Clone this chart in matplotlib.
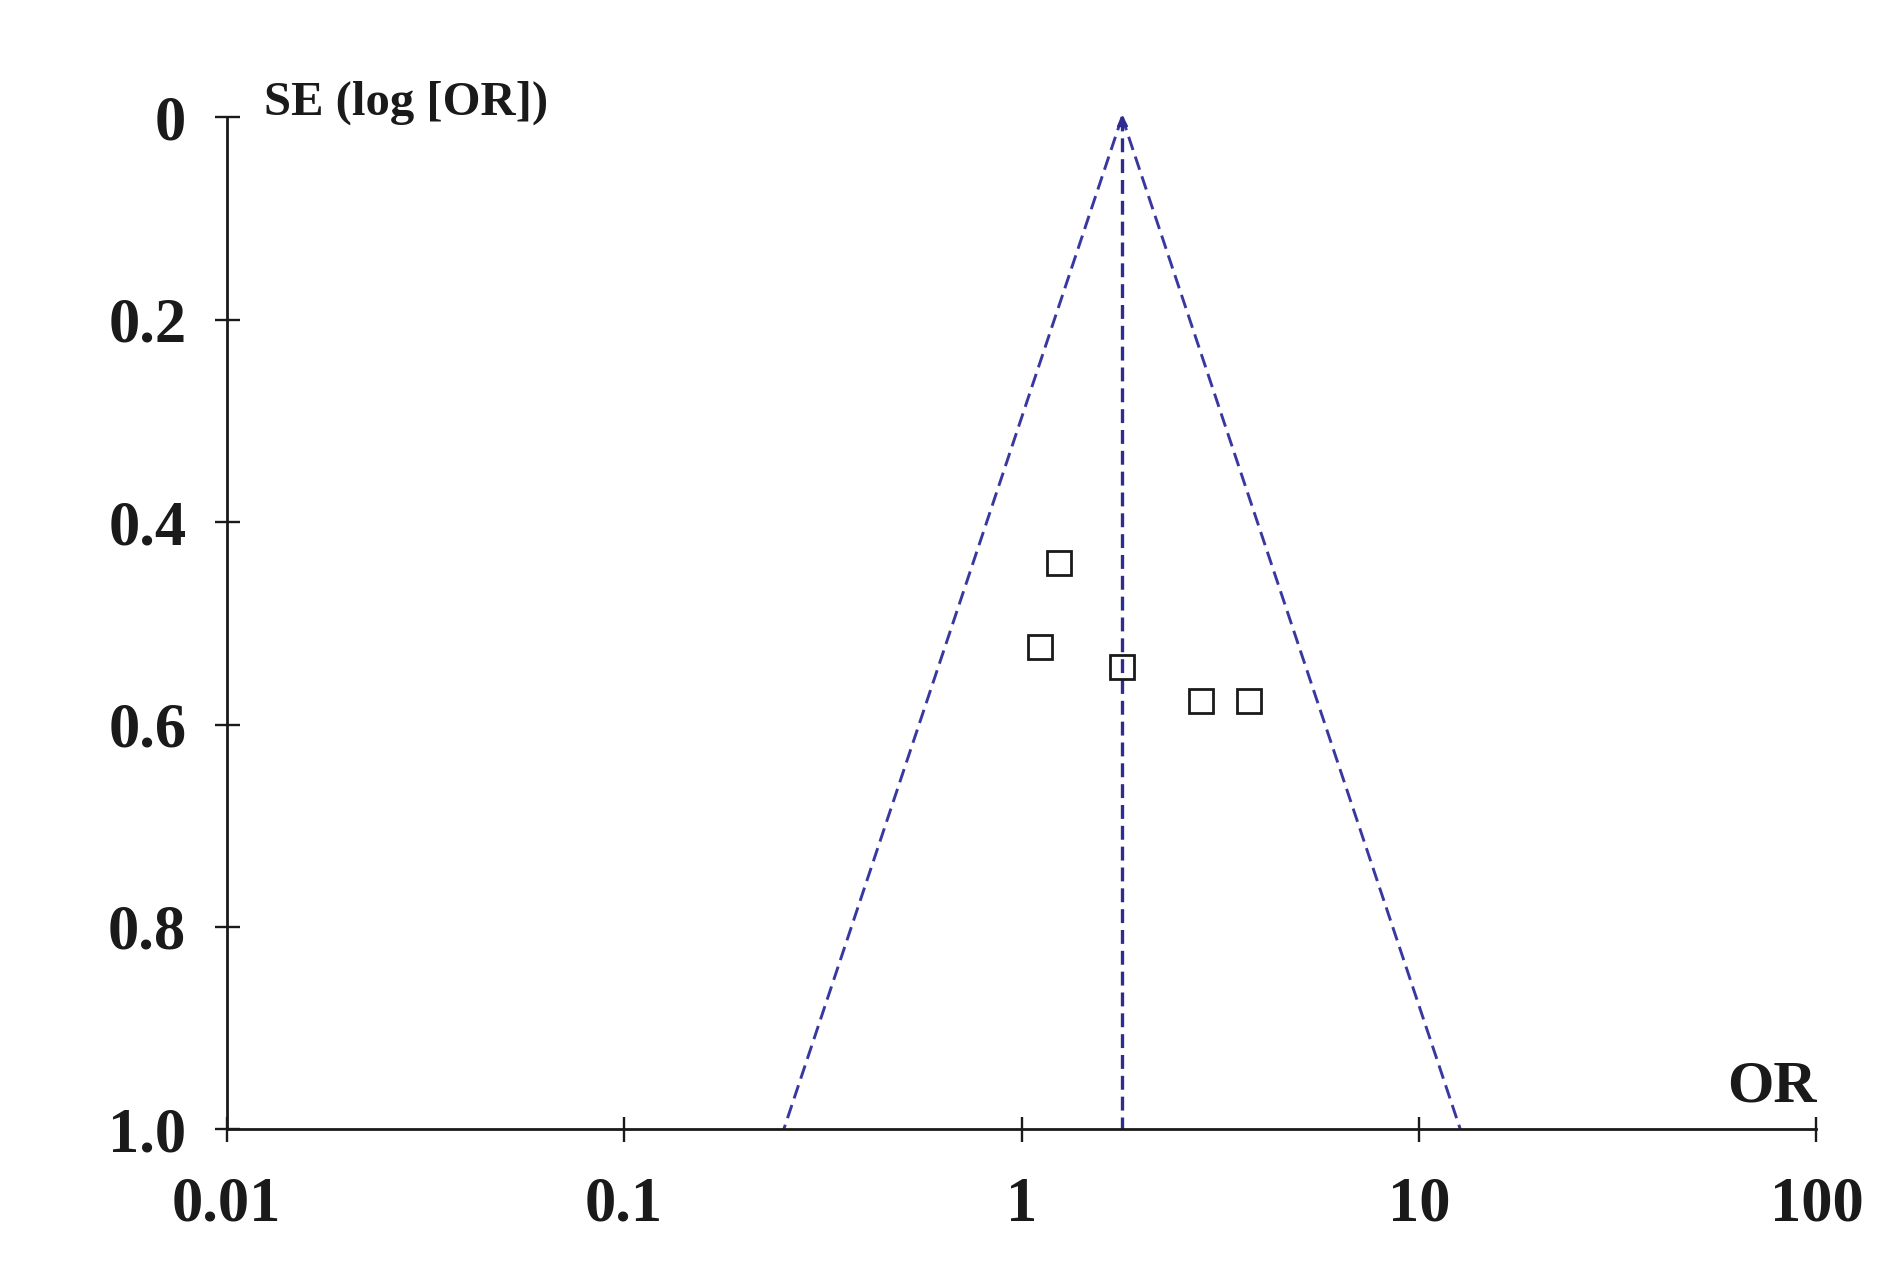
import numpy as np
import matplotlib
matplotlib.use("Agg")
import matplotlib.pyplot as plt

# Data
study_or = [1.24, 1.11, 1.79, 2.82, 3.74]
study_se = [0.440, 0.523, 0.543, 0.577, 0.577]
pooled_or = 1.79
se_max = 1.0
z = 1.96
x_ticks = [0.01, 0.1, 1, 10, 100]
x_ticklabels = ["0.01", "0.1", "1", "10", "100"]
y_ticks = [0, 0.2, 0.4, 0.6, 0.8, 1.0]
y_ticklabels = ["0", "0.2", "0.4", "0.6", "0.8", "1.0"]

plt.rcParams['font.family'] = ['Liberation Serif', 'DejaVu Serif']
plt.rcParams['lines.scale_dashes'] = False

fig = plt.figure(figsize=(18.9, 12.79), dpi=100)
ax = fig.add_axes([0.1199, 0.1169, 0.9611 - 0.1199, 0.9085 - 0.1169])

line_col = '#2E2C8E'
dash = (10, 5)
# funnel
se_line = [0, se_max]
left = [pooled_or, pooled_or * np.exp(-z * se_max)]
right = [pooled_or, pooled_or * np.exp(z * se_max)]
ax.plot(left, se_line, color='#3838A0', lw=2.1, dashes=dash, clip_on=False)
ax.plot(right, se_line, color='#3838A0', lw=2.1, dashes=dash, clip_on=False)
ax.plot([pooled_or, pooled_or], se_line, color=line_col, lw=2.4, dashes=dash, clip_on=False)
ax.plot([pooled_or], [0.004], marker='^', markersize=7, color=line_col, clip_on=False)

ax.plot(study_or, study_se, linestyle='none', marker='s', markersize=17,
        markerfacecolor='none', markeredgecolor='#1a1a1a', markeredgewidth=2.0, clip_on=False, zorder=5)

ax.set_xscale('log')
ax.set_xlim(0.01, 100)
ax.set_ylim(1.0, 0)
ax.set_xticks(x_ticks)
ax.set_xticklabels(x_ticklabels)
ax.minorticks_off()
ax.set_yticks(y_ticks)
ax.set_yticklabels(y_ticklabels)

for s in ['top', 'right']:
    ax.spines[s].set_visible(False)
for s in ['left', 'bottom']:
    ax.spines[s].set_linewidth(2.0)
    ax.spines[s].set_color('#1a1a1a')

ax.tick_params(axis='both', direction='inout', length=18, width=1.7, color='#1a1a1a',
               labelsize=45, labelcolor='#1a1a1a')
ax.tick_params(axis='x', pad=25)
ax.tick_params(axis='y', pad=20)
for lab in ax.get_xticklabels() + ax.get_yticklabels():
    lab.set_fontweight('bold')

ax.text(0.0124, -0.014, 'SE (log [OR])', fontsize=35, fontweight='bold', color='#1a1a1a',
        ha='left', va='center')
ax.text(100, 0.985, 'OR', fontsize=43, fontweight='bold', color='#1a1a1a',
        ha='right', va='bottom')

fig.savefig('out.png', dpi=100, facecolor='white')
